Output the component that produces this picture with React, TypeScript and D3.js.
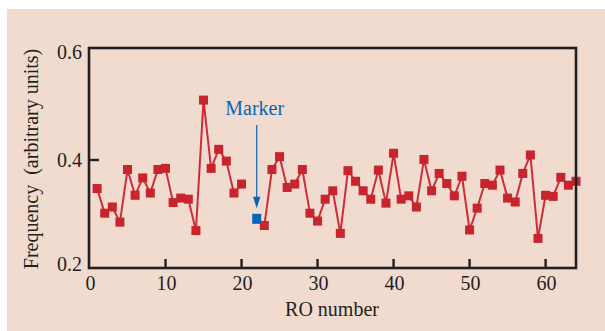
import { useEffect, useRef } from 'react';
import * as d3 from 'd3';

// frequency per RO number (1..64); 21 and 22 are not on the red trace
const frequency = [
  0.349, 0.305, 0.316, 0.289, 0.383, 0.337, 0.368, 0.341, 0.383, 0.385,
  0.324, 0.332, 0.330, 0.274, 0.507, 0.385, 0.419, 0.398, 0.341, 0.357,
  null, null, 0.283, 0.383, 0.406, 0.351, 0.357, 0.383, 0.305, 0.291,
  0.330, 0.345, 0.269, 0.381, 0.362, 0.345, 0.330, 0.382, 0.323, 0.412,
  0.330, 0.336, 0.316, 0.401, 0.345, 0.376, 0.358, 0.336, 0.371, 0.275,
  0.314, 0.358, 0.355, 0.382, 0.332, 0.325, 0.376, 0.409, 0.260, 0.337,
  0.335, 0.369, 0.355, 0.362,
];
const marker = { ro: 22, value: 0.295, label: 'Marker' };
const xTicks = [10, 20, 30, 40, 50, 60];
const xLabels = [0, 10, 20, 30, 40, 50, 60];
const yTicks = [0.2, 0.4, 0.6];

const W = 605;
const H = 331;
const FONT = '"Liberation Serif", "Times New Roman", serif';
const INK = '#231f20';
const RED = '#c8242e';
const BLUE = '#0a64b4';

const App = () => {
  const ref = useRef<SVGSVGElement>(null);

  useEffect(() => {
    const svg = d3.select(ref.current);
    svg.selectAll('*').remove();

    const left = 89;
    const right = 576;
    const top = 48;
    const bottom = 268;

    const x = d3.scaleLinear().domain([0, 64]).range([89.5, 576]);
    const y = d3.scaleLinear().domain([0.2, 0.6]).range([272, 48]);

    svg.append('rect')
      .attr('x', 7).attr('y', 9)
      .attr('width', W - 7).attr('height', H - 9)
      .attr('fill', '#f1dbcf');

    const points = frequency.map((v, i) => ({ ro: i + 1, v }));

    // red trace
    const line = d3.line<{ ro: number; v: number | null }>()
      .defined((d) => d.v != null)
      .x((d) => x(d.ro))
      .y((d) => y(d.v as number));

    svg.append('path')
      .attr('d', line(points))
      .attr('fill', 'none')
      .attr('stroke', '#cf2c38')
      .attr('stroke-width', 2)
      .attr('stroke-linejoin', 'round');

    const s = 9;
    svg.selectAll('rect.pt')
      .data(points.filter((d) => d.v != null))
      .enter().append('rect')
      .attr('class', 'pt')
      .attr('x', (d) => x(d.ro) - s / 2)
      .attr('y', (d) => y(d.v as number) - s / 2)
      .attr('width', s)
      .attr('height', s)
      .attr('fill', RED);

    // marker point, arrow and label
    const mx = x(marker.ro);
    const my = y(marker.value);
    svg.append('rect')
      .attr('x', mx - 4.5).attr('y', my - 5)
      .attr('width', 9).attr('height', 10)
      .attr('fill', BLUE);
    svg.append('line')
      .attr('x1', mx).attr('x2', mx)
      .attr('y1', 125).attr('y2', my - 20)
      .attr('stroke', BLUE).attr('stroke-width', 1.2);
    svg.append('path')
      .attr('d', `M${mx - 3.7},${my - 22} L${mx + 3.7},${my - 22} L${mx},${my - 10.5} Z`)
      .attr('fill', BLUE);
    svg.append('text')
      .attr('x', mx - 2).attr('y', 115)
      .attr('text-anchor', 'middle')
      .attr('font-family', FONT)
      .attr('font-size', 20)
      .attr('fill', BLUE)
      .text(marker.label);

    // frame
    svg.append('rect')
      .attr('x', left).attr('y', top)
      .attr('width', right - left).attr('height', bottom - top)
      .attr('fill', 'none')
      .attr('stroke', INK)
      .attr('stroke-width', 2.6);

    svg.selectAll('line.xt')
      .data(xTicks)
      .enter().append('line')
      .attr('class', 'xt')
      .attr('x1', (d) => x(d)).attr('x2', (d) => x(d))
      .attr('y1', bottom).attr('y2', bottom - 9)
      .attr('stroke', INK).attr('stroke-width', 2.4);

    svg.selectAll('line.yt')
      .data(yTicks.filter((d) => d > 0.2 && d < 0.6))
      .enter().append('line')
      .attr('class', 'yt')
      .attr('x1', left).attr('x2', left + 10)
      .attr('y1', (d) => y(d)).attr('y2', (d) => y(d))
      .attr('stroke', INK).attr('stroke-width', 2.4);

    svg.selectAll('text.xl')
      .data(xLabels)
      .enter().append('text')
      .attr('class', 'xl')
      .attr('x', (d) => x(d) + 1)
      .attr('y', 290)
      .attr('text-anchor', 'middle')
      .attr('font-family', FONT)
      .attr('font-size', 20)
      .attr('fill', INK)
      .text((d) => d);

    svg.selectAll('text.yl')
      .data(yTicks)
      .enter().append('text')
      .attr('class', 'yl')
      .attr('x', 82)
      .attr('y', (d) => Math.min(Math.max(y(d), 52), 264) + 7)
      .attr('text-anchor', 'end')
      .attr('font-family', FONT)
      .attr('font-size', 20)
      .attr('fill', INK)
      .text((d) => d3.format('.1f')(d));

    svg.append('text')
      .attr('x', (left + right) / 2 - 0.5)
      .attr('y', 316)
      .attr('text-anchor', 'middle')
      .attr('font-family', FONT)
      .attr('font-size', 20)
      .attr('fill', INK)
      .text('RO number');

    svg.append('text')
      .attr('transform', 'translate(38,159) rotate(-90)')
      .attr('text-anchor', 'middle')
      .attr('font-family', FONT)
      .attr('font-size', 20)
      .attr('fill', INK)
      .style('white-space', 'pre')
      .text('Frequency  (arbitrary units)');
  }, []);

  return (
    <svg
      ref={ref}
      width={W}
      height={H}
      style={{ position: 'absolute', left: 0, top: 0, background: '#fff' }}
    />
  );
};

export default App;
